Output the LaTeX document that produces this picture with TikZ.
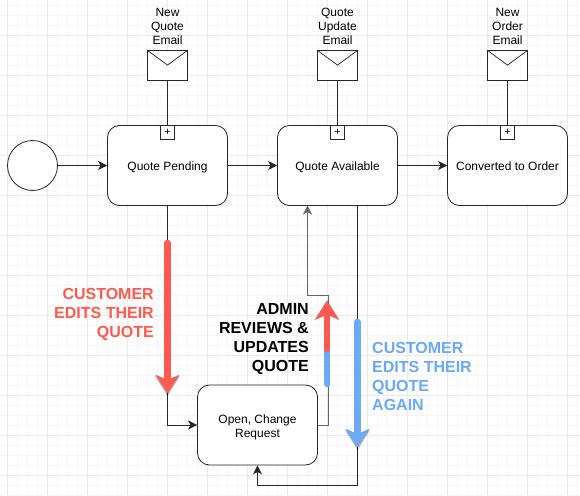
\documentclass[tikz,border=0pt]{standalone}
\usepackage{fontspec}
\setmainfont{Liberation Sans}
\usetikzlibrary{arrows.meta}
\definecolor{gridminor}{HTML}{F6F6F6}
\definecolor{gridmajor}{HTML}{EAEAEA}
\definecolor{redarrow}{HTML}{FF5A50}
\definecolor{bluearrow}{HTML}{6CA9F8}
\definecolor{greyline}{HTML}{666666}
\tikzset{
  task/.style={draw=black!85,line width=0.8pt,rounded corners=12pt,minimum width=120pt,minimum height=80pt,inner sep=0pt,align=center,font=\fontsize{12}{14}\selectfont,fill=white},
  startev/.style={draw=black!85,line width=0.8pt,circle,minimum size=50pt,inner sep=0pt,fill=white},
  envelope/.style={draw=black!85,line width=0.8pt,minimum width=40pt,minimum height=30pt,inner sep=0pt,fill=white},
  plusbox/.style={draw=black!85,line width=0.7pt,minimum size=14pt,inner sep=0pt,fill=white,font=\fontsize{11}{11}\selectfont},
  caption/.style={align=center,font=\fontsize{12}{14}\selectfont,inner sep=0pt},
  flow/.style={draw=black!85,line width=0.7pt,-{Stealth[length=9pt,width=9pt,inset=2.5pt]}},
  plainline/.style={draw=black!85,line width=0.7pt},
  greyflow/.style={draw=greyline,line width=0.7pt,-{Stealth[length=9pt,width=9pt,inset=2.5pt]}},
  bigarrow/.style={line width=6.5pt,line cap=round,-{Stealth[length=18pt,width=23pt,inset=5pt]}},
  thickbar/.style={line width=6.5pt,line cap=round},
  note/.style={font=\bfseries\fontsize{16}{19}\selectfont,inner sep=0pt},
  halo/.style={fill=black,opacity=.13},
}
\newcommand{\tasktext}[1]{\rule[-3pt]{0pt}{15pt}#1}
\newcommand{\headshadow}[3]{% tip x, tip y, direction (1 down, -1 up)
  \foreach \s in {0,0.8,1.6}
    \fill[halo] (#1-11.5-\s,#2-#3*18-#3*\s*0.3+1) -- (#1,#2+#3*\s+1+#3*1) -- (#1+11.5+\s,#2-#3*18-#3*\s*0.3+1) -- (#1,#2-#3*13+1) -- cycle;
}
\begin{document}
\begin{tikzpicture}[x=1pt,y=-1pt]
\useasboundingbox (0,0) rectangle (580,495);
\fill[white] (0,0) rectangle (580,495);
\foreach \x in {7,17,...,580} \draw[gridminor,line width=0.6pt] (\x,0) -- (\x,495);
\foreach \y in {5,15,...,495} \draw[gridminor,line width=0.6pt] (0,\y) -- (580,\y);
\foreach \x in {7,47,...,580} \draw[gridmajor,line width=0.6pt] (\x,0) -- (\x,495);
\foreach \y in {35,75,...,495} \draw[gridmajor,line width=0.6pt] (0,\y) -- (580,\y);

\node[startev] (start) at (32.5,165.5) {};
\node[task] (pending) at (167.5,165.5) {\tasktext{Quote Pending}};
\node[task] (available) at (337.5,165.5) {\tasktext{Quote Available}};
\node[task] (converted) at (507.5,165.5) {\tasktext{Converted to Order}};
\node[task] (change) at (257.5,425) {\rule{0pt}{13pt}Open, Change\\Request};

\node[envelope] (env1) at (167.5,65.5) {};
\node[envelope] (env2) at (337.5,65.5) {};
\node[envelope] (env3) at (507.5,65.5) {};
\foreach \e in {env1,env2,env3}
  \draw[black!85,line width=0.7pt] (\e.north west) -- ([yshift=-15pt]\e.north) -- (\e.north east);
\node[plusbox,anchor=north] (plus1) at (pending.north) {+};
\node[plusbox,anchor=north] (plus2) at (available.north) {+};
\node[plusbox,anchor=north] (plus3) at (converted.north) {+};

\node[caption,anchor=south] (cap1) at (167.5,45) {New\\Quote\\Email};
\node[caption,anchor=south] (cap2) at (337.5,45) {Quote\\Update\\Email};
\node[caption,anchor=south] (cap3) at (507.5,45) {New\\Order\\Email};

\draw[plainline] (env1) -- (plus1);
\draw[plainline] (env2) -- (plus2);
\draw[plainline] (env3) -- (plus3);
\draw[flow] (start) -- (pending);
\draw[flow] (pending) -- (available);
\draw[flow] (available) -- (converted);
\draw[flow] (pending.south) |- (change.west);
\draw[greyflow] (change.east) -- ++(10,0) |- (307.5,295) -- (307.5,205.5);
\draw[flow] (357.5,205.5) |- (257.5,485) -- (change.south);

\coordinate (ra) at (167.5,243);
\coordinate (rb) at (167.5,393);
\coordinate (ba) at (357.5,322);
\coordinate (bb) at (357.5,447);
\coordinate (ua) at (327,384);
\coordinate (ub) at (327,349);
\coordinate (uc) at (327,301);
\headshadow{167.5}{393}{1}
\headshadow{357.5}{447}{1}
\headshadow{327}{301}{-1}
\draw[bigarrow,redarrow] (ra) -- (rb);
\draw[bigarrow,bluearrow] (ba) -- (bb);
\draw[thickbar,bluearrow] (ua) -- (ub);
\draw[bigarrow,redarrow] (ub) -- (uc);

\node[note,text=redarrow,align=right,anchor=north east] (n1) at (154,288) {CUSTOMER\\EDITS THEIR\\QUOTE};
\node[note,text=black,align=right,anchor=north east] (n2) at (309,303) {ADMIN\\REVIEWS \&\\UPDATES\\QUOTE};
\node[note,text=bluearrow,align=left,anchor=north west] (n3) at (372,342) {CUSTOMER\\EDITS THEIR\\QUOTE\\AGAIN};
\end{tikzpicture}
\end{document}
